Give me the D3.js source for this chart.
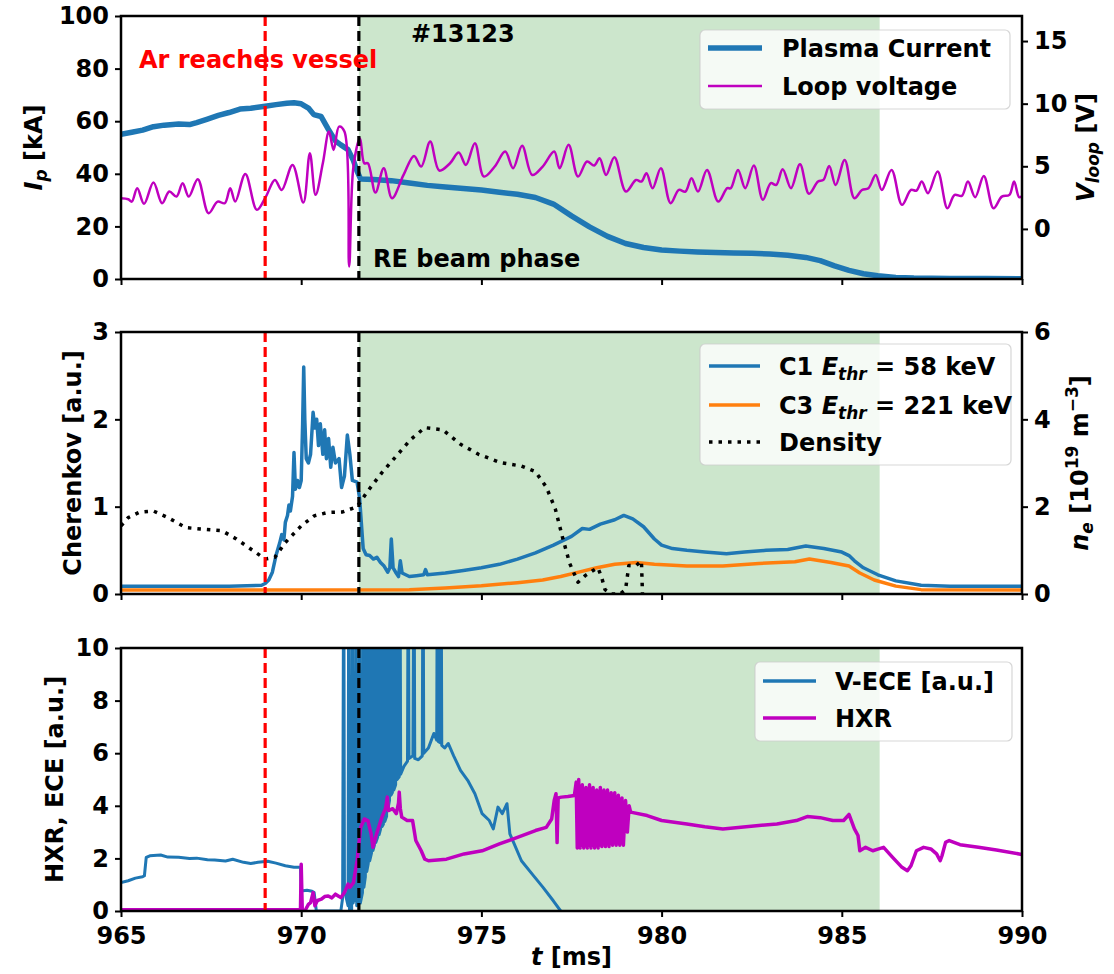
<!DOCTYPE html>
<html><head><meta charset="utf-8">
<script src="https://cdn.jsdelivr.net/npm/d3@7"></script>
<style>
body{margin:0;background:#fff}
svg{display:block}
text{font-family:'DejaVu Sans',sans-serif;font-weight:bold;}
</style>
</head><body>
<svg id="c" width="1114" height="974"></svg>
<script>
// ---------------- DATA ----------------
const timeDomain = [965, 990];
const xTicks = [965, 970, 975, 980, 985, 990];
const ipTicks = [0, 20, 40, 60, 80, 100];
const vloopTicks = [0, 5, 10, 15];
const cherTicks = [0, 1, 2, 3];
const neTicks = [0, 2, 4, 6];
const hxrTicks = [0, 2, 4, 6, 8, 10];
const arTime = 969.0;
const reStart = 971.6;
const reEnd = 986.05;

// Plasma current [kA]
const plasmaCurrent = [[965.0,55],[965.3,55.8],[965.6,56.6],[965.9,57.9],[966.2,58.5],[966.6,58.9],[966.9,58.7],[967.1,59.5],[967.4,60.8],[967.7,62.2],[968.0,63.3],[968.3,64.6],[968.6,64.9],[969.0,65.7],[969.3,66.3],[969.6,66.8],[969.8,67.0],[970.0,66.6],[970.2,65.0],[970.35,62.5],[970.55,61.8],[970.75,57],[970.95,52.5],[971.1,51.0],[971.3,49.2],[971.45,45],[971.55,41],[971.65,38],[972.0,37.8],[972.5,37.4],[973.0,36.5],[973.5,35.6],[974.0,35.0],[974.5,34.4],[975.0,33.8],[975.5,33.0],[976.0,32.2],[976.5,31.0],[977.0,28.5],[977.5,24.0],[978.0,19.8],[978.5,16.2],[979.0,13.5],[979.5,12.0],[980.0,11.0],[980.5,10.6],[981.0,10.3],[981.5,10.1],[982.0,9.9],[982.5,9.8],[983.0,9.5],[983.5,9.0],[984.0,8.2],[984.4,7.0],[984.8,5.0],[985.2,3.3],[985.6,2.0],[986.0,1.2],[986.5,0.6],[987.0,0.35],[988.0,0.2],[989.0,0.15],[990.0,0.1]];

// Loop voltage [V]
const loopVoltage = [[965.0,2.45],[965.2,2.37],[965.3,2.18],[965.45,3.25],[965.64,2.0],[965.9,3.7],[966.14,2.05],[966.34,2.98],[966.54,2.58],[966.71,3.65],[966.88,2.58],[967.13,3.97],[967.43,1.25],[967.68,2.18],[967.88,2.05],[968.03,3.25],[968.17,2.18],[968.45,4.39],[968.77,1.52],[969.02,2.58],[969.27,3.91],[969.46,3.11],[969.76,5.11],[970.06,2.1],[970.24,6.04],[970.4,2.72],[970.6,5.24],[970.77,7.77],[970.9,6.31],[971.05,8.17],[971.2,7.77],[971.33,-3.0],[971.45,4.98],[971.63,7.24],[971.75,5.24],[971.85,5.24],[972.06,2.9],[972.29,4.85],[972.52,2.45],[972.84,4.31],[973.13,5.83],[973.33,4.98],[973.58,6.98],[973.83,4.66],[974.13,5.24],[974.37,6.1],[974.57,5.11],[974.82,6.84],[975.07,4.18],[975.37,4.98],[975.66,6.18],[975.88,4.85],[976.13,6.63],[976.41,4.31],[976.7,4.98],[977.02,6.18],[977.17,4.85],[977.42,6.71],[977.68,4.18],[977.93,5.38],[978.13,5.06],[978.28,5.64],[978.46,4.31],[978.69,5.72],[979.01,2.98],[979.29,3.91],[979.44,3.78],[979.58,4.45],[979.75,3.25],[979.98,4.85],[980.25,2.05],[980.48,3.11],[980.66,2.98],[980.83,4.05],[981.01,2.98],[981.26,4.71],[981.57,2.18],[981.82,3.25],[981.92,3.25],[982.12,4.71],[982.32,3.25],[982.56,5.06],[982.81,2.32],[983.03,3.65],[983.18,3.51],[983.36,4.77],[983.59,3.25],[983.84,5.17],[984.09,2.8],[984.34,3.78],[984.49,3.91],[984.65,5.03],[984.83,3.51],[985.08,5.51],[985.35,2.45],[985.56,3.11],[985.74,3.25],[985.94,4.31],[986.11,3.11],[986.38,4.71],[986.67,1.92],[986.92,3.11],[987.07,3.06],[987.22,3.78],[987.39,2.85],[987.66,4.58],[987.93,1.65],[988.13,2.72],[988.33,2.64],[988.5,3.78],[988.7,2.53],[988.94,4.23],[989.21,1.65],[989.44,2.58],[989.65,2.72],[989.78,3.78],[989.92,2.53],[990.0,2.6]];

// Cherenkov C1 [a.u.]
const cherenkovC1 = [[965.0,0.09],[966.0,0.09],[967.0,0.09],[968.0,0.09],[968.9,0.1],[969.0,0.12],[969.1,0.16],[969.2,0.25],[969.3,0.44],[969.4,0.58],[969.46,0.68],[969.52,0.62],[969.56,0.82],[969.62,0.9],[969.66,1.02],[969.7,0.95],[969.76,1.12],[969.8,1.62],[969.84,1.2],[969.9,1.3],[969.95,1.22],[970.0,1.3],[970.04,1.95],[970.07,2.6],[970.1,2.0],[970.14,1.55],[970.2,1.5],[970.26,1.6],[970.33,2.08],[970.38,1.9],[970.43,2.0],[970.48,1.7],[970.53,1.95],[970.6,1.6],[970.65,1.88],[970.7,1.55],[970.76,1.78],[970.82,1.45],[970.88,1.68],[970.95,1.5],[971.05,1.55],[971.12,1.22],[971.2,1.35],[971.28,1.82],[971.35,1.6],[971.42,1.3],[971.55,1.28],[971.62,1.1],[971.68,0.75],[971.72,0.52],[971.8,0.45],[971.9,0.44],[972.0,0.4],[972.1,0.42],[972.2,0.36],[972.3,0.32],[972.4,0.25],[972.46,0.3],[972.5,0.63],[972.55,0.3],[972.62,0.25],[972.7,0.2],[972.75,0.38],[972.8,0.24],[972.9,0.22],[973.0,0.2],[973.2,0.21],[973.4,0.22],[973.45,0.28],[973.5,0.22],[974.0,0.24],[974.5,0.27],[975.0,0.3],[975.5,0.34],[976.0,0.4],[976.5,0.47],[977.0,0.56],[977.5,0.66],[977.8,0.75],[978.0,0.74],[978.3,0.8],[978.7,0.85],[978.95,0.9],[979.2,0.86],[979.5,0.77],[979.8,0.63],[980.0,0.56],[980.3,0.52],[980.7,0.5],[981.2,0.48],[981.8,0.46],[982.3,0.48],[982.9,0.5],[983.5,0.51],[984.0,0.55],[984.5,0.52],[985.0,0.48],[985.2,0.44],[985.35,0.38],[985.6,0.3],[986.0,0.22],[986.5,0.15],[987.2,0.1],[988.0,0.09],[990.0,0.09]];

// Cherenkov C3 [a.u.]
const cherenkovC3 = [[965,0.045],[970,0.045],[973,0.05],[974,0.07],[975,0.095],[976,0.13],[976.7,0.16],[977.2,0.2],[977.7,0.25],[978.2,0.3],[978.7,0.34],[979.3,0.36],[979.8,0.34],[980.7,0.32],[981.7,0.32],[982.7,0.35],[983.7,0.37],[984.1,0.4],[984.7,0.36],[985.2,0.32],[985.5,0.24],[985.9,0.16],[986.5,0.09],[987.2,0.05],[990,0.045]];

// Density [1e19 m^-3]
const density = [[965.0,1.56],[965.2,1.75],[965.5,1.87],[965.9,1.9],[966.3,1.75],[966.8,1.52],[967.2,1.49],[967.8,1.45],[968.2,1.26],[968.6,1.03],[969.0,0.8],[969.27,0.84],[969.56,1.18],[970.0,1.56],[970.36,1.79],[970.75,1.87],[971.15,1.88],[971.55,2.0],[971.85,2.36],[972.24,2.78],[972.64,3.16],[973.04,3.54],[973.43,3.81],[973.93,3.76],[974.42,3.43],[974.92,3.2],[975.52,3.01],[976.11,2.93],[976.5,2.8],[976.8,2.45],[977.05,1.95],[977.25,1.3],[977.45,0.7],[977.68,0.27],[977.88,0.42],[978.08,0.53],[978.23,0.6],[978.33,0.4],[978.43,0.1],[978.6,0.0],[978.85,0.0],[979.0,0.1],[979.09,0.65],[979.29,0.65],[979.44,0.76],[979.47,0.0]];

// V-ECE [a.u.]
const vece = [[965.0,1.08],[965.2,1.15],[965.4,1.25],[965.6,1.3],[965.65,1.34],[965.7,2.04],[965.8,2.1],[966.1,2.13],[966.3,2.05],[966.6,2.04],[966.9,2.0],[967.1,2.01],[967.4,1.95],[967.6,1.94],[967.9,1.9],[968.1,1.97],[968.4,1.85],[968.6,1.81],[968.8,1.85],[969.07,1.89],[969.3,1.82],[969.56,1.72],[969.8,1.66],[969.98,1.66],[970.0,0.76],[970.16,0.79],[970.3,0.75],[970.36,0.7],[970.42,0.0],[971.1,0.0],[971.15,0.5],[971.18,15],[971.2,0.8],[971.3,0.2],[971.32,15],[971.34,0.0],[971.4,0.0],[971.42,15],[971.44,0.3],[971.5,0.6],[971.52,15],[971.54,0.2],[971.6,0.4],[971.62,15],[971.64,0.3],[971.7,0.7],[971.72,15],[971.74,0.9],[971.78,1.3],[971.8,15],[971.82,1.5],[971.86,1.8],[971.88,15],[971.9,1.9],[971.95,2.2],[971.97,15],[971.99,2.3],[972.03,2.5],[972.05,15],[972.07,2.6],[972.12,2.8],[972.14,15],[972.16,2.9],[972.2,3.1],[972.22,15],[972.24,3.2],[972.28,3.3],[972.3,15],[972.32,3.4],[972.37,3.6],[972.39,15],[972.41,3.9],[972.45,4.2],[972.47,15],[972.49,4.4],[972.53,4.5],[972.55,15],[972.57,4.6],[972.62,4.8],[972.64,15],[972.66,5.0],[972.72,5.1],[972.74,15],[972.76,5.2],[972.85,5.5],[972.95,5.7],[972.97,15],[972.99,5.8],[973.1,5.9],[973.13,15],[973.15,5.8],[973.25,5.75],[973.36,5.9],[973.38,15],[973.4,6.0],[973.53,6.2],[973.68,6.75],[973.76,6.5],[973.78,15],[973.8,6.45],[973.86,6.4],[973.88,15],[973.9,6.3],[973.98,6.2],[974.08,6.37],[974.23,5.9],[974.42,5.35],[974.62,4.97],[974.82,4.46],[975.02,3.7],[975.22,3.44],[975.33,3.12],[975.46,3.95],[975.58,3.7],[975.71,4.08],[975.79,2.93],[975.91,2.55],[976.11,1.91],[976.41,1.4],[976.71,0.9],[977.0,0.38],[977.2,0.0]];

// HXR [a.u.]
const hxr = [[965.0,0.05],[969.98,0.05],[970.0,1.78],[970.03,0.0],[970.1,0.0],[970.2,0.25],[970.26,0.32],[970.33,0.7],[970.38,0.2],[970.45,0.4],[970.56,0.45],[970.65,0.55],[970.75,0.57],[970.85,0.5],[970.95,0.64],[971.05,0.55],[971.1,0.51],[971.2,0.7],[971.3,1.02],[971.35,0.9],[971.45,1.08],[971.55,1.91],[971.65,3.18],[971.75,3.5],[971.85,3.44],[971.94,2.93],[971.99,2.42],[972.09,2.93],[972.24,3.57],[972.34,3.9],[972.39,4.33],[972.42,3.82],[972.54,3.89],[972.64,3.7],[972.7,4.1],[972.72,4.52],[972.75,3.9],[972.79,3.57],[972.94,3.44],[973.09,3.44],[973.18,2.68],[973.33,2.29],[973.43,1.97],[973.53,1.91],[974.03,1.97],[974.52,2.17],[975.02,2.29],[975.5,2.55],[976.0,2.8],[976.5,3.06],[976.8,3.18],[976.95,3.5],[977.02,4.2],[977.07,4.46],[977.1,2.6],[977.13,4.3],[977.22,4.33],[977.4,4.35],[977.58,4.39],[977.63,4.9],[977.66,2.4],[977.7,5.0],[977.74,2.4],[977.8,4.8],[977.84,2.4],[977.9,4.7],[977.94,2.4],[978.0,4.8],[978.04,2.4],[978.1,4.7],[978.14,2.4],[978.2,4.6],[978.24,2.4],[978.3,4.7],[978.34,2.45],[978.4,4.6],[978.44,2.45],[978.5,4.6],[978.54,2.45],[978.6,4.5],[978.64,2.5],[978.7,4.5],[978.74,2.5],[978.8,4.4],[978.84,2.5],[978.9,4.3],[978.94,2.5],[979.0,4.2],[979.05,3.0],[979.1,4.0],[979.14,3.76],[979.6,3.63],[980.0,3.44],[980.7,3.31],[981.2,3.2],[981.7,3.12],[982.2,3.18],[982.7,3.25],[983.2,3.31],[983.74,3.44],[984.04,3.59],[984.4,3.55],[984.75,3.44],[985.05,3.44],[985.2,3.67],[985.35,3.12],[985.45,2.87],[985.5,2.29],[985.66,2.42],[985.86,2.29],[986.0,2.35],[986.16,2.42],[986.41,2.04],[986.67,1.66],[986.82,1.53],[986.92,1.72],[987.07,2.29],[987.27,2.42],[987.47,2.36],[987.63,2.17],[987.73,1.91],[987.78,2.1],[987.88,2.61],[987.98,2.68],[988.28,2.52],[988.79,2.42],[989.29,2.32],[989.92,2.17],[990.0,2.15]];

// ---------------- DRAW ----------------
const FS = 24;
const BLUE = '#1f77b4', ORANGE = '#ff7f0e', MAG = '#bf00bf';
const svg = d3.select('#c');
const L = 121, R = 1022;
const x = d3.scaleLinear().domain(timeDomain).range([L, R]);
const P = [{top:16,bottom:279},{top:332,bottom:594},{top:648,bottom:911}];

const y1 = d3.scaleLinear().domain([0,100]).range([P[0].bottom, P[0].top]);
const y1r = d3.scaleLinear().domain([-4,17]).range([P[0].bottom, P[0].top]);
const y2 = d3.scaleLinear().domain([0,3]).range([P[1].bottom, P[1].top]);
const y2r = d3.scaleLinear().domain([0,6]).range([P[1].bottom, P[1].top]);
const y3 = d3.scaleLinear().domain([0,10]).range([P[2].bottom, P[2].top]);

const defs = svg.append('defs');
P.forEach((p,i)=>{
  defs.append('clipPath').attr('id','clip'+i).append('rect')
    .attr('x',L).attr('y',p.top).attr('width',R-L).attr('height',p.bottom-p.top);
});

function panelBase(i){
  const p = P[i];
  const g = svg.append('g');
  g.append('rect').attr('x',x(reStart)).attr('y',p.top).attr('width',x(reEnd)-x(reStart))
    .attr('height',p.bottom-p.top).attr('fill','#cce6cc');
  return g;
}
function vlines(g,i){
  const p = P[i];
  g.append('line').attr('x1',x(arTime)).attr('x2',x(arTime)).attr('y1',p.top).attr('y2',p.bottom)
    .attr('stroke','#ff0000').attr('stroke-width',3.2).attr('stroke-dasharray','10,5');
  g.append('line').attr('x1',x(reStart)).attr('x2',x(reStart)).attr('y1',p.top).attr('y2',p.bottom)
    .attr('stroke','#000').attr('stroke-width',3.2).attr('stroke-dasharray','10,5');
}
function drawLine(g,i,data,ys,color,w,dash,curve){
  const ln = d3.line().x(d=>x(d[0])).y(d=>ys(d[1]));
  if(curve) ln.curve(curve);
  const path = g.append('path').datum(data).attr('d',ln).attr('fill','none')
    .attr('stroke',color).attr('stroke-width',w).attr('stroke-linejoin','round')
    .attr('clip-path','url(#clip'+i+')');
  if(dash) path.attr('stroke-dasharray',dash);
  return path;
}
function styleAxis(ag){
  ag.select('.domain').remove();
  ag.selectAll('.tick line').attr('stroke','#000').attr('stroke-width',2);
  ag.selectAll('.tick text').attr('font-size',FS).attr('font-weight','bold')
    .attr('font-family',"'DejaVu Sans',sans-serif").attr('fill','#000');
}
function axes(i, yl, lt, yr, rt, showX){
  const p = P[i];
  const gl = svg.append('g').attr('transform',`translate(${L},0)`)
    .call(d3.axisLeft(yl).tickValues(lt).tickFormat(d3.format('d')).tickSize(6).tickPadding(6));
  styleAxis(gl);
  if(yr){
    const gr = svg.append('g').attr('transform',`translate(${R},0)`)
      .call(d3.axisRight(yr).tickValues(rt).tickFormat(d3.format('d')).tickSize(6).tickPadding(6));
    styleAxis(gr);
  }
  const gb = svg.append('g').attr('transform',`translate(0,${p.bottom})`)
    .call(d3.axisBottom(x).tickValues(xTicks).tickFormat(showX?d3.format('d'):'').tickSize(6).tickPadding(10));
  styleAxis(gb);
  svg.append('rect').attr('x',L).attr('y',p.top).attr('width',R-L).attr('height',p.bottom-p.top)
    .attr('fill','none').attr('stroke','#000').attr('stroke-width',2.5);
}
function legend(bx,by,bw,bh,items,hx0,hx1,tx){
  const g = svg.append('g');
  g.append('rect').attr('x',bx).attr('y',by).attr('width',bw).attr('height',bh).attr('rx',5)
    .attr('fill','#fff').attr('fill-opacity',0.8).attr('stroke','#cccccc').attr('stroke-opacity',0.8).attr('stroke-width',1.2);
  items.forEach(it=>{
    const ln = g.append('line').attr('x1',hx0).attr('x2',hx1).attr('y1',it.y).attr('y2',it.y)
      .attr('stroke',it.color).attr('stroke-width',it.w);
    if(it.dash) ln.attr('stroke-dasharray',it.dash);
    const t = g.append('text').attr('x',tx).attr('y',it.y).attr('dy','0.36em').attr('font-size',FS);
    it.label(t);
  });
}
function plain(t,s){ t.append('tspan').text(s); }

// ---- Panel 1 ----
{
  const g = panelBase(0);
  drawLine(g,0,plasmaCurrent,y1,BLUE,5.5);
  drawLine(g,0,loopVoltage,y1r,MAG,2.5,null,d3.curveCatmullRom.alpha(0.5));
  vlines(g,0);
  axes(0,y1,ipTicks,y1r,vloopTicks,false);
  svg.append('text').attr('x',139).attr('y',68).attr('font-size',FS).attr('fill','#ff0000').text('Ar reaches vessel');
  svg.append('text').attr('x',411).attr('y',42).attr('font-size',FS).attr('fill','#000').text('#13123');
  svg.append('text').attr('x',373).attr('y',267).attr('font-size',FS).attr('fill','#000').text('RE beam phase');
  legend(700,30,310,79,[
    {y:48,color:BLUE,w:5.5,label:t=>plain(t,'Plasma Current')},
    {y:86,color:MAG,w:2.5,label:t=>plain(t,'Loop voltage')}
  ],708,762,782);
  const t1 = svg.append('text').attr('transform',`translate(42,${(P[0].top+P[0].bottom)/2}) rotate(-90)`)
    .attr('text-anchor','middle').attr('font-size',FS);
  t1.append('tspan').attr('font-style','italic').text('I');
  t1.append('tspan').attr('font-style','italic').attr('font-size',17).attr('dy',5).text('p');
  t1.append('tspan').attr('dy',-5).text(' [kA]');
  const t2 = svg.append('text').attr('transform',`translate(1094,${(P[0].top+P[0].bottom)/2}) rotate(-90)`)
    .attr('text-anchor','middle').attr('font-size',FS);
  t2.append('tspan').attr('font-style','italic').text('V');
  t2.append('tspan').attr('font-style','italic').attr('font-size',17).attr('dy',5).text('loop');
  t2.append('tspan').attr('dy',-5).text(' [V]');
}

// ---- Panel 2 ----
{
  const g = panelBase(1);
  drawLine(g,1,cherenkovC1,y2,BLUE,3.5);
  drawLine(g,1,cherenkovC3,y2,ORANGE,3.5);
  drawLine(g,1,density,y2r,'#000',3.5,'3.5,6');
  vlines(g,1);
  axes(1,y2,cherTicks,y2r,neTicks,false);
  legend(700,344,311,121,[
    {y:366,color:BLUE,w:3.5,label:t=>{plain(t,'C1 ');t.append('tspan').attr('font-style','italic').text('E');
      t.append('tspan').attr('font-style','italic').attr('font-size',17).attr('dy',5).text('thr');
      t.append('tspan').attr('dy',-5).text(' = 58 keV');}},
    {y:405,color:ORANGE,w:3.5,label:t=>{plain(t,'C3 ');t.append('tspan').attr('font-style','italic').text('E');
      t.append('tspan').attr('font-style','italic').attr('font-size',17).attr('dy',5).text('thr');
      t.append('tspan').attr('dy',-5).text(' = 221 keV');}},
    {y:442,color:'#000',w:3.5,dash:'3.5,6',label:t=>plain(t,'Density')}
  ],709,760,779);
  svg.append('text').attr('transform',`translate(81,${(P[1].top+P[1].bottom)/2}) rotate(-90)`)
    .attr('text-anchor','middle').attr('font-size',FS).text('Cherenkov [a.u.]');
  const t2 = svg.append('text').attr('transform',`translate(1088,${(P[1].top+P[1].bottom)/2}) rotate(-90)`)
    .attr('text-anchor','middle').attr('font-size',FS);
  t2.append('tspan').attr('font-style','italic').text('n');
  t2.append('tspan').attr('font-style','italic').attr('font-size',17).attr('dy',5).text('e');
  t2.append('tspan').attr('dy',-5).text(' [10');
  t2.append('tspan').attr('font-size',17).attr('dy',-10).text('19');
  t2.append('tspan').attr('dy',10).text(' m');
  t2.append('tspan').attr('font-size',17).attr('dy',-10).text('\u22123');
  t2.append('tspan').attr('dy',10).text(']');
}

// ---- Panel 3 ----
{
  const g = panelBase(2);
  drawLine(g,2,vece,y3,BLUE,3);
  drawLine(g,2,hxr,y3,MAG,3.5);
  vlines(g,2);
  axes(2,y3,hxrTicks,null,null,true);
  legend(755,662,257,79,[
    {y:681,color:BLUE,w:3.5,label:t=>plain(t,'V-ECE [a.u.]')},
    {y:718,color:MAG,w:3.5,label:t=>plain(t,'HXR')}
  ],763,816,835);
  svg.append('text').attr('transform',`translate(63,${(P[2].top+P[2].bottom)/2}) rotate(-90)`)
    .attr('text-anchor','middle').attr('font-size',FS).text('HXR, ECE [a.u.]');
  const tx = svg.append('text').attr('x',(L+R)/2).attr('y',965).attr('text-anchor','middle').attr('font-size',FS);
  tx.append('tspan').attr('font-style','italic').text('t');
  tx.append('tspan').text(' [ms]');
}
</script>
</body></html>
